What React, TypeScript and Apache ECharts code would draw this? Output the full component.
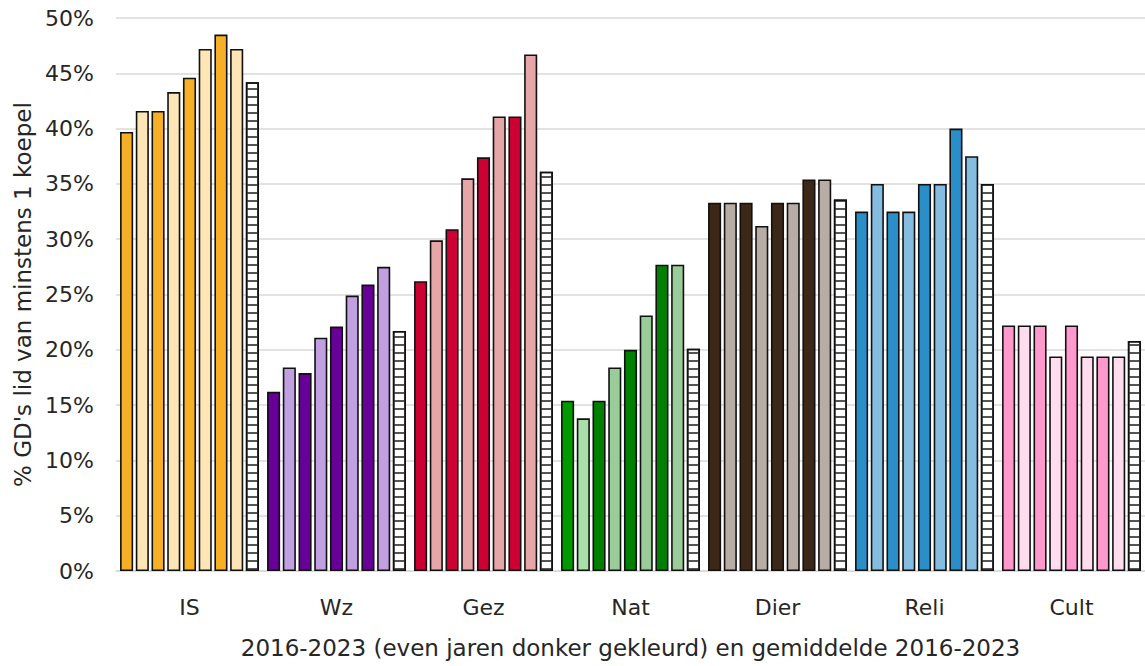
import React, { useEffect, useRef } from "react";
import * as echarts from "echarts";

const categories = ["IS", "Wz", "Gez", "Nat", "Dier", "Reli", "Cult"];
const years = ["2016", "2017", "2018", "2019", "2020", "2021", "2022", "2023"];

// values per category, 2016..2023 (in %)
const IS = [39.7, 41.6, 41.6, 43.3, 44.6, 47.2, 48.5, 47.2];
const Wz = [16.2, 18.4, 17.9, 21.1, 22.1, 24.9, 25.9, 27.5];
const Gez = [26.2, 29.9, 30.9, 35.5, 37.4, 41.1, 41.1, 46.7];
const Nat = [15.4, 13.8, 15.4, 18.4, 20.0, 23.1, 27.7, 27.7];
const Dier = [33.3, 33.3, 33.3, 31.2, 33.3, 33.3, 35.4, 35.4];
const Reli = [32.5, 35.0, 32.5, 32.5, 35.0, 35.0, 40.0, 37.5];
const Cult = [22.2, 22.2, 22.2, 19.4, 22.2, 19.4, 19.4, 19.4];

const valuesByCategory = [IS, Wz, Gez, Nat, Dier, Reli, Cult];
// gemiddelde 2016-2023 per category
const averageValues = [44.2, 21.7, 36.1, 20.1, 33.6, 35.0, 20.8];

const yTicks = { min: 0, max: 50, interval: 5 };

// styling: dark (even years) / light (odd years) per category
const darkColors = ["#F5B027", "#660099", "#CC0033", "#008000", "#3D2817", "#2A8FC8", "#FF99CC"];
const lightColors = ["#FDE5B6", "#C0A0E0", "#E6A6A8", "#99CC99", "#B8ADA5", "#85BDE0", "#FFDDEE"];
// slight per-bar variants seen in Nat
const overrides: Record<string, string> = { "3-0": "#009900", "3-1": "#AADFAA" };

export default function App() {
  const ref = useRef<HTMLDivElement>(null);
  useEffect(() => {
    document.body.style.margin = "0";
    const chart = echarts.init(ref.current!, undefined, { renderer: "svg" });
    const font = "DejaVu Sans";
    const fs = 22;
    const titleFs = 23;
    const textColor = "#262626";
    const yearSeries = years.map((yr, yi) => ({
      name: yr,
      type: "bar",
      barGap: "20%",
      barCategoryGap: "5.5%",
      data: valuesByCategory.map((vals, ci) => ({
        value: vals[yi],
        itemStyle: {
          color: overrides[`${ci}-${yi}`] || (yi % 2 === 0 ? darkColors[ci] : lightColors[ci]),
        },
      })),
      itemStyle: { borderColor: "#111", borderWidth: 1.6 },
    }));
    const avgSeries = {
      name: "gemiddelde",
      type: "bar",
      barGap: "20%",
      barCategoryGap: "5.5%",
      data: averageValues,
      itemStyle: {
        color: "#ffffff",
        borderColor: "#111",
        borderWidth: 1.6,
        decal: {
          symbol: "rect",
          symbolSize: 1,
          color: "#555555",
          dashArrayX: [1, 0],
          dashArrayY: [2, 6],
          rotation: 0,
        },
      },
    };
    chart.setOption({
      animation: false,
      grid: { left: 116, right: 0, top: 18, bottom: 95, containLabel: false },
      xAxis: {
        type: "category",
        data: categories,
        axisTick: { show: false },
        axisLine: { lineStyle: { color: "#d9d9d9", width: 1.5 } },
        axisLabel: { fontFamily: font, fontSize: fs, color: textColor, margin: 25 },
        name: "2016-2023 (even jaren donker gekleurd) en gemiddelde 2016-2023",
        nameLocation: "middle",
        nameGap: 65,
        nameTextStyle: { fontFamily: font, fontSize: titleFs, color: textColor },
      },
      yAxis: {
        type: "value",
        min: yTicks.min,
        max: yTicks.max,
        interval: yTicks.interval,
        axisLine: { show: false },
        axisTick: { show: false },
        splitLine: { lineStyle: { color: "#d9d9d9", width: 1.5 } },
        axisLabel: { fontFamily: font, fontSize: fs, color: textColor, margin: 22, formatter: "{value}%" },
        name: "% GD's lid van minstens 1 koepel",
        nameLocation: "middle",
        nameRotate: 90,
        nameGap: 82,
        nameTextStyle: { fontFamily: font, fontSize: titleFs, color: textColor },
      },
      series: [...yearSeries, avgSeries],
    });
    return () => chart.dispose();
  }, []);
  return <div ref={ref} style={{ width: 1145, height: 666 }} />;
}
